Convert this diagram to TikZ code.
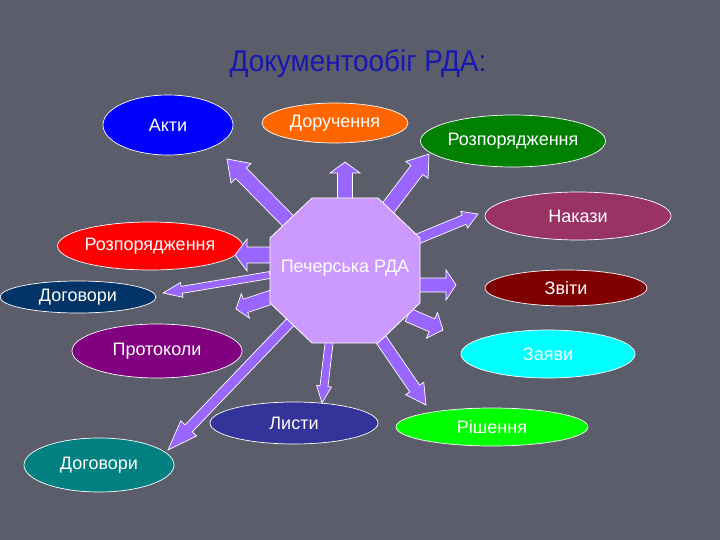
\documentclass[tikz,border=0pt]{standalone}
\usepackage{fontspec}
\setmainfont{Liberation Sans}
\usetikzlibrary{shapes.geometric,calc}
\definecolor{bg}{RGB}{91,93,107}
\definecolor{titleblue}{RGB}{24,24,176}
\definecolor{arrowfill}{RGB}{153,102,255}
\definecolor{octfill}{RGB}{204,153,255}
\definecolor{cAkty}{RGB}{0,0,255}
\definecolor{cDoruch}{RGB}{255,102,0}
\definecolor{cRozpA}{RGB}{0,128,0}
\definecolor{cNakazy}{RGB}{153,51,102}
\definecolor{cRozpB}{RGB}{255,0,0}
\definecolor{cDogA}{RGB}{0,51,102}
\definecolor{cZvity}{RGB}{128,0,0}
\definecolor{cProt}{RGB}{128,0,128}
\definecolor{cZayavy}{RGB}{0,255,255}
\definecolor{cLysty}{RGB}{51,51,153}
\definecolor{cRish}{RGB}{0,255,0}
\definecolor{cDogB}{RGB}{0,128,128}
\newcommand\blockarrow[5]{%
  \path ($(#2)!#5!(#1)$) coordinate (bah);
  \filldraw[barrow] ($(#1)!#3!90:(#2)$) -- ($(bah)!#3!90:(#2)$) -- ($(bah)!#4!90:(#2)$) -- (#2) -- ($(bah)!#4!-90:(#2)$) -- ($(bah)!#3!-90:(#2)$) -- ($(#1)!#3!-90:(#2)$) -- cycle;
}
\begin{document}
\begin{tikzpicture}[x=1pt,y=-1pt,
  oval/.style={ellipse, draw=white, line width=0.7pt, inner sep=0pt, text=white,
    font=\fontsize{18}{20}\selectfont},
  barrow/.style={fill=arrowfill, draw=white, line width=0.7pt, line join=miter},
  octo/.style={fill=octfill, draw=white, line width=0.8pt}]
\fill[bg] (0,0) rectangle (720,540);
\useasboundingbox (0,0) rectangle (720,540);

% title
\node[text=titleblue, font=\fontsize{30}{34}\selectfont] (title) at (358,64) {\scalebox{0.93}[1]{Документообіг РДА:}};

% ellipses
\node[oval, fill=cAkty, minimum width=130pt, minimum height=60pt] (akty) at (168,125) {Акти};
\node[oval, fill=cDoruch, minimum width=146pt, minimum height=40pt] (doruch) at (335,123) {Доручення};
\node[oval, fill=cRozpA, minimum width=152pt, minimum height=52pt] (rozpA) at (513,141) {Розпорядження};
\node[oval, fill=cNakazy, minimum width=186pt, minimum height=48pt] (nakazy) at (578,216) {Накази};
\node[oval, fill=cRozpB, minimum width=156pt, minimum height=48pt] (rozpB) at (150,246) {Розпорядження};
\node[oval, fill=cDogA, minimum width=156pt, minimum height=32pt] (dogA) at (78,297) {Договори};
\node[oval, fill=cZvity, minimum width=162pt, minimum height=36pt] (zvity) at (566,288) {Звіти};
\node[oval, fill=cProt, minimum width=170pt, minimum height=54pt] (prot) at (157,351) {Протоколи};
\node[oval, fill=cZayavy, minimum width=174pt, minimum height=48pt] (zayavy) at (548,354) {Заяви};
\node[oval, fill=cLysty, minimum width=168pt, minimum height=42pt] (lysty) at (294,423) {Листи};
\node[oval, fill=cRish, minimum width=192pt, minimum height=38pt] (rish) at (492,427) {Рішення};
\node[oval, fill=cDogB, minimum width=150pt, minimum height=54pt] (dogB) at (99,465) {Договори};

% arrow end points
\coordinate (s1) at (295,228);  \coordinate (t1) at (227,159);
\coordinate (s2) at (345,205);  \coordinate (t2) at (345,162);
\coordinate (s3) at (385,212);  \coordinate (t3) at (429,154);
\coordinate (s4) at (415,240);  \coordinate (t4) at (478,214);
\coordinate (s5) at (415,285);  \coordinate (t5) at (456,285);
\coordinate (s6) at (408,315);  \coordinate (t6) at (443,330);
\coordinate (s7) at (378,335);  \coordinate (t7) at (426,405);
\coordinate (s8) at (330,335);  \coordinate (t8) at (322,403);
\coordinate (s9) at (300,312);  \coordinate (t9) at (168,450);
\coordinate (s10) at (272,297); \coordinate (t10) at (236,309);
\coordinate (s11) at (275,255); \coordinate (t11) at (235,255);
\coordinate (s12) at (270,275); \coordinate (t12) at (163,293);

\blockarrow{s1}{t1}{7.5pt}{14pt}{20pt}
\blockarrow{s2}{t2}{7.5pt}{15pt}{11pt}
\blockarrow{s3}{t3}{7.5pt}{14pt}{20pt}
\blockarrow{s4}{t4}{5pt}{9pt}{15pt}
\blockarrow{s5}{t5}{7pt}{15pt}{10pt}
\blockarrow{s6}{t6}{7pt}{14pt}{12pt}
\blockarrow{s7}{t7}{6pt}{11pt}{20pt}
\blockarrow{s8}{t8}{4pt}{7.5pt}{17pt}
\blockarrow{s9}{t9}{5pt}{11pt}{30pt}
\blockarrow{s10}{t10}{7pt}{13pt}{10pt}
\blockarrow{s11}{t11}{8pt}{16pt}{12pt}
\blockarrow{s12}{t12}{3.5pt}{7.5pt}{19pt}

% octagon
\draw[octo] (312,198) -- (378,198) -- (420,238) -- (420,303) -- (378,343) -- (312,343) -- (270,303) -- (270,238) -- cycle;
\node[text=white, font=\fontsize{18}{20}\selectfont] (pech) at (345,268) {Печерська РДА};
\end{tikzpicture}
\end{document}
